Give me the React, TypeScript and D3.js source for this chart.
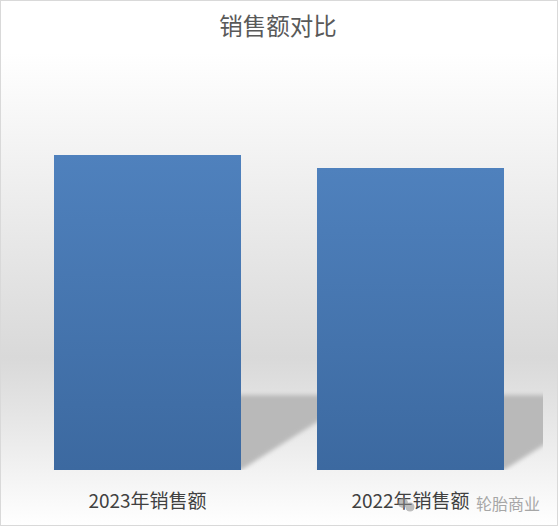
import * as d3 from 'd3';

const categories = ['2023年销售额', '2022年销售额'];
const salesValues = [315, 302];
const chartTitle = '销售额对比';
const watermark = '轮胎商业';

const W = 558;
const H = 526;
const baseY = 470;

export default function App() {
  // band scale over the plot area
  const x = d3.scaleBand<string>()
    .domain(categories)
    .range([16, 542])
    .paddingInner(0.289)
    .paddingOuter(0.1445);

  const y = d3.scaleLinear()
    .domain([0, 400])
    .range([baseY, baseY - 400]);

  const font = '"Noto Sans CJK SC", "Noto Sans", sans-serif';
  const shadowTop = 395;
  const shadowShift = 119;

  return (
    <div style={{ width: W, height: H }}>
      <style>{'body{margin:0;overflow:hidden}'}</style>
      <svg width={W} height={H} style={{ display: 'block' }}>
        <defs>
          <linearGradient id="bg" x1="0" y1="0" x2="0" y2="1">
            <stop offset="0" stopColor="#ffffff" />
            <stop offset="0.1" stopColor="#ffffff" />
            <stop offset="0.68" stopColor="#d9d9d9" />
            <stop offset="0.78" stopColor="#e4e4e4" />
            <stop offset="1" stopColor="#ffffff" />
          </linearGradient>
          <linearGradient id="bar" x1="0" y1="0" x2="0" y2="1">
            <stop offset="0" stopColor="#4f81bd" />
            <stop offset="1" stopColor="#3c69a0" />
          </linearGradient>
          <filter id="blur" x="-10%" y="-10%" width="120%" height="120%">
            <feGaussianBlur stdDeviation="2" />
          </filter>
          <clipPath id="plotClip">
            <rect x={16} y={385} width={527} height={baseY - 385} />
          </clipPath>
        </defs>

        <rect x={0.5} y={0.5} width={W - 1} height={H - 1} fill="url(#bg)" stroke="#d9d9d9" />

        {/* perspective shadows */}
        <g clipPath="url(#plotClip)">
          {categories.map((c, i) => {
            const x0 = x(c)!;
            const x1 = x0 + x.bandwidth();
            const pts = [
              [x0, baseY],
              [x1, baseY],
              [x1 + shadowShift, shadowTop],
              [x0 + shadowShift, shadowTop],
            ];
            return (
              <polygon
                key={'s' + i}
                points={pts.map(p => p.join(',')).join(' ')}
                fill="#b9b9b9"
                filter="url(#blur)"
              />
            );
          })}
        </g>

        {categories.map((c, i) => (
          <rect
            key={c}
            x={x(c)}
            y={y(salesValues[i])}
            width={x.bandwidth()}
            height={baseY - y(salesValues[i])}
            fill="url(#bar)"
          />
        ))}

        <text x={278} y={35} textAnchor="middle" fontFamily={font} fontSize={23.5} fill="#595959">
          {chartTitle}
        </text>

        {categories.map(c => (
          <text
            key={'l' + c}
            x={x(c)! + x.bandwidth() / 2}
            y={508}
            textAnchor="middle"
            fontFamily={font}
            fontSize={19}
            fill="#404040"
          >
            {c}
          </text>
        ))}

        {/* watermark */}
        <g opacity={0.55} fill="#8c8c8c">
          <circle cx={403} cy={503} r={5} />
          <circle cx={410} cy={507} r={4.5} />
        </g>
        <text x={540} y={510} textAnchor="end" fontFamily={font} fontSize={16} fill="#a6a6a6">
          {watermark}
        </text>
      </svg>
    </div>
  );
}
